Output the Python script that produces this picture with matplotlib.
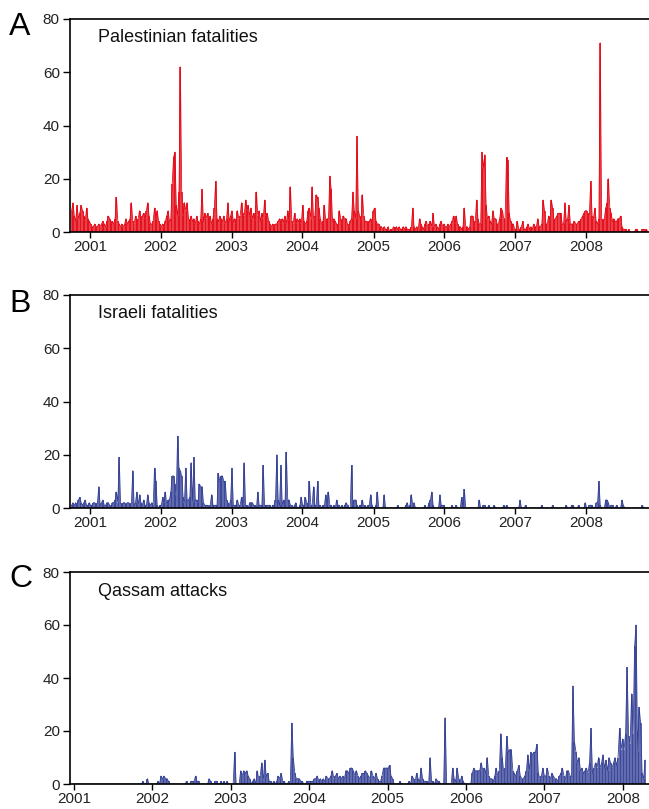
import numpy as np
import pandas as pd
import matplotlib
matplotlib.use("Agg")
import matplotlib.pyplot as plt
import matplotlib.dates as mdates

plt.rcParams['font.family'] = ['Liberation Sans', 'DejaVu Sans']

# weekly maxima
start_ab = '2000-09-29'
start_c = '2001-01-01'

palestinian = [
    8, 11, 6, 4, 10, 5, 7, 10, 8, 6, 4, 9, 5, 4, 3, 2, 2, 3, 2, 2,
    3, 2, 3, 4, 3, 2, 4, 6, 5, 3, 4, 3, 5, 13, 4, 3, 2, 3, 2, 3,
    5, 3, 4, 5, 11, 4, 3, 6, 4, 5, 8, 4, 6, 7, 5, 8, 11, 6, 3, 3,
    4, 9, 5, 8, 4, 3, 2, 3, 2, 4, 6, 8, 4, 5, 18, 28, 30, 10, 6, 15,
    62, 15, 6, 11, 8, 11, 5, 4, 6, 4, 5, 3, 6, 4, 3, 5, 16, 4, 7, 5,
    7, 4, 6, 3, 5, 9, 19, 5, 4, 6, 5, 4, 6, 3, 5, 11, 4, 6, 8, 4,
    5, 3, 8, 5, 6, 11, 7, 6, 12, 8, 10, 6, 9, 5, 7, 4, 15, 6, 8, 4,
    7, 5, 12, 6, 7, 4, 3, 2, 3, 2, 3, 3, 4, 5, 3, 5, 4, 6, 3, 8,
    4, 17, 4, 3, 7, 3, 5, 4, 5, 3, 10, 4, 3, 4, 8, 9, 5, 17, 5, 6,
    14, 13, 9, 5, 3, 4, 10, 4, 5, 5, 21, 16, 4, 5, 4, 3, 1, 8, 5, 3,
    6, 5, 5, 3, 2, 4, 5, 15, 8, 5, 36, 8, 6, 4, 14, 6, 4, 4, 3, 4,
    5, 3, 8, 9, 4, 3, 3, 2, 2, 1, 2, 1, 1, 2, 0, 1, 1, 2, 1, 2,
    1, 2, 1, 1, 2, 1, 2, 1, 1, 1, 2, 9, 2, 1, 2, 1, 5, 3, 2, 1,
    3, 4, 2, 3, 4, 2, 7, 2, 3, 2, 1, 3, 4, 2, 3, 2, 2, 3, 2, 3,
    4, 6, 3, 6, 3, 2, 2, 1, 2, 9, 2, 2, 1, 2, 6, 6, 3, 4, 12, 5,
    3, 3, 30, 24, 29, 10, 5, 6, 4, 3, 8, 5, 5, 3, 3, 5, 9, 8, 5, 5,
    28, 27, 7, 4, 3, 3, 1, 1, 4, 1, 1, 2, 4, 1, 1, 2, 3, 1, 2, 1,
    3, 2, 2, 5, 2, 2, 3, 12, 8, 3, 3, 6, 4, 12, 9, 4, 5, 6, 7, 7,
    7, 3, 3, 11, 4, 5, 10, 3, 3, 3, 4, 3, 3, 4, 4, 5, 6, 7, 8, 8,
    6, 7, 19, 6, 5, 9, 4, 3, 5, 71, 5, 4, 5, 9, 11, 20, 9, 7, 4, 5,
    4, 4, 5, 5, 6, 2, 1, 1, 1, 0, 1, 0, 0, 0, 0, 1, 1, 0, 0, 0,
    1, 1, 0, 1, 0,
]

israeli = [
    1, 2, 1, 2, 1, 3, 4, 2, 1, 2, 3, 1, 1, 2, 1, 1, 2, 2, 1, 2,
    8, 1, 2, 3, 1, 1, 2, 2, 1, 0, 2, 2, 3, 6, 2, 19, 2, 1, 2, 2,
    1, 2, 2, 1, 2, 14, 1, 2, 6, 1, 5, 2, 1, 3, 1, 1, 5, 2, 1, 2,
    1, 15, 10, 1, 0, 1, 1, 4, 2, 6, 1, 3, 3, 6, 12, 12, 9, 5, 27, 15,
    14, 12, 4, 2, 15, 3, 3, 4, 17, 2, 19, 3, 3, 2, 9, 8, 8, 2, 1, 1,
    1, 0, 1, 5, 1, 1, 1, 1, 13, 10, 12, 12, 10, 10, 3, 2, 1, 3, 15, 1,
    1, 1, 3, 1, 1, 4, 1, 17, 1, 1, 0, 2, 2, 2, 1, 1, 0, 6, 1, 1,
    1, 16, 1, 1, 1, 1, 1, 0, 1, 1, 3, 20, 3, 1, 16, 1, 3, 1, 21, 3,
    3, 1, 1, 0, 1, 2, 0, 0, 1, 4, 1, 1, 4, 2, 1, 10, 1, 1, 8, 1,
    1, 10, 1, 1, 0, 1, 1, 5, 1, 6, 1, 1, 0, 1, 0, 3, 1, 1, 0, 1,
    0, 1, 2, 1, 0, 0, 16, 1, 3, 3, 1, 0, 1, 1, 3, 0, 1, 0, 1, 1,
    5, 1, 0, 0, 1, 6, 0, 0, 0, 0, 5, 0, 0, 0, 0, 0, 0, 0, 0, 0,
    1, 0, 0, 0, 0, 0, 1, 2, 0, 1, 5, 1, 2, 0, 0, 0, 0, 0, 0, 0,
    1, 0, 0, 2, 3, 6, 1, 0, 0, 0, 0, 5, 1, 1, 1, 0, 0, 0, 0, 0,
    1, 0, 0, 1, 0, 0, 0, 4, 0, 7, 0, 0, 0, 0, 0, 0, 0, 0, 0, 0,
    3, 0, 0, 1, 1, 0, 0, 1, 0, 0, 0, 1, 0, 0, 0, 0, 0, 0, 1, 0,
    1, 0, 0, 0, 0, 0, 0, 0, 0, 0, 3, 0, 0, 0, 1, 0, 0, 0, 0, 0,
    0, 0, 0, 0, 0, 0, 1, 0, 0, 0, 0, 0, 0, 0, 1, 0, 0, 0, 0, 0,
    0, 0, 0, 0, 1, 0, 0, 0, 1, 1, 0, 0, 0, 1, 0, 0, 0, 0, 2, 0,
    0, 1, 1, 1, 0, 0, 2, 2, 10, 1, 0, 0, 0, 3, 3, 2, 0, 1, 1, 0,
    0, 1, 0, 0, 0, 3, 1, 0, 0, 0, 0, 0, 0, 0, 0, 0, 0, 0, 0, 0,
    1, 0, 0, 0, 0,
]

qassam = [
    0, 0, 0, 0, 0, 0, 0, 0, 0, 0, 0, 0, 0, 0, 0, 0, 0, 0, 0, 0,
    0, 0, 0, 0, 0, 0, 0, 0, 0, 0, 0, 0, 0, 0, 0, 0, 0, 0, 0, 0,
    0, 0, 0, 0, 0, 0, 1, 0, 0, 2, 0, 0, 0, 0, 0, 0, 1, 0, 3, 2,
    3, 2, 2, 1, 0, 0, 0, 0, 0, 0, 0, 0, 0, 0, 0, 1, 0, 0, 1, 1,
    1, 3, 1, 1, 0, 0, 0, 0, 0, 0, 2, 1, 0, 0, 1, 1, 0, 0, 1, 0,
    1, 0, 1, 0, 0, 0, 0, 12, 0, 0, 0, 5, 3, 5, 4, 5, 3, 2, 0, 1,
    2, 0, 5, 2, 3, 8, 1, 9, 3, 4, 1, 1, 0, 1, 0, 1, 3, 2, 4, 1,
    1, 0, 0, 1, 0, 23, 10, 4, 2, 2, 2, 1, 1, 0, 0, 1, 1, 1, 1, 1,
    2, 2, 3, 1, 2, 1, 2, 1, 3, 2, 2, 3, 5, 2, 3, 4, 2, 3, 2, 3,
    2, 5, 5, 4, 6, 6, 5, 3, 5, 3, 2, 3, 4, 4, 5, 4, 3, 2, 5, 3,
    2, 4, 2, 1, 1, 3, 6, 6, 6, 6, 7, 3, 2, 0, 0, 0, 0, 1, 0, 0,
    0, 0, 0, 1, 0, 3, 2, 1, 4, 2, 1, 6, 2, 1, 1, 1, 0, 10, 1, 1,
    0, 2, 1, 1, 0, 0, 0, 25, 0, 0, 0, 0, 6, 2, 1, 6, 2, 1, 3, 1,
    0, 0, 0, 0, 0, 4, 6, 5, 5, 5, 5, 8, 5, 6, 4, 10, 3, 2, 2, 1,
    3, 6, 3, 5, 19, 10, 4, 6, 18, 12, 13, 13, 5, 4, 3, 5, 7, 3, 2, 2,
    3, 5, 11, 5, 12, 11, 12, 12, 15, 4, 2, 3, 6, 3, 3, 6, 3, 2, 4, 3,
    2, 2, 1, 3, 4, 6, 3, 2, 5, 5, 3, 3, 37, 16, 12, 8, 10, 5, 6, 4,
    5, 6, 4, 8, 21, 4, 6, 8, 6, 10, 6, 8, 11, 6, 9, 5, 10, 8, 6, 8,
    10, 7, 10, 21, 13, 17, 13, 19, 44, 18, 15, 34, 19, 52, 60, 12, 29, 23, 4, 2,
    9,
]

titles = ['Palestinian fatalities', 'Israeli fatalities', 'Qassam attacks']
letters = ['A', 'B', 'C']
years = [str(y) for y in range(2001, 2009)]

red = '#e30613'
blue = '#333f94'

W, H = 649, 809
fig = plt.figure(figsize=(W / 100, H / 100), dpi=100)

panels = [
    (palestinian, start_ab, red, 232, 213, ('2000-09-18', '2008-11-20')),
    (israeli, start_ab, blue, 508, 213, ('2000-09-18', '2008-11-20')),
    (qassam, start_c, blue, 784, 212, ('2000-12-12', '2008-05-02')),
]
letter_y = [35, 312, 587]
title_y = [42, 318, 596]

for k, (vals, start, col, ybot, h, lims) in enumerate(panels):
    left = 69.5
    ax = fig.add_axes([left / W, (H - ybot) / H, 1 - left / W, h / H])
    d = pd.date_range(start, periods=len(vals), freq='7D')
    ax.vlines(d, 0, vals, color=col, lw=1.1)
    ax.plot(d, vals, color=col, lw=0.6)
    ax.set_xlim(pd.Timestamp(lims[0]), pd.Timestamp(lims[1]))
    ax.set_ylim(0, 80)
    ax.set_yticks([0, 20, 40, 60, 80])
    ax.set_xticks([pd.Timestamp(y + '-01-01') for y in years])
    ax.set_xticklabels(years)
    ax.spines['right'].set_visible(False)
    for s in ['left', 'top', 'bottom']:
        ax.spines[s].set_linewidth(1.2)
    ax.tick_params(axis='both', direction='out', length=4, width=1,
                   labelsize=11, pad=2, colors='black', labelcolor='#222222')
    ax.tick_params(axis='y', length=5)
    fig.text(9 / W, 1 - letter_y[k] / H, letters[k], fontsize=23, va='baseline')
    fig.text(98 / W, 1 - title_y[k] / H, titles[k], fontsize=13, va='baseline',
             color='#111111')

fig.savefig('out.png', dpi=100)
